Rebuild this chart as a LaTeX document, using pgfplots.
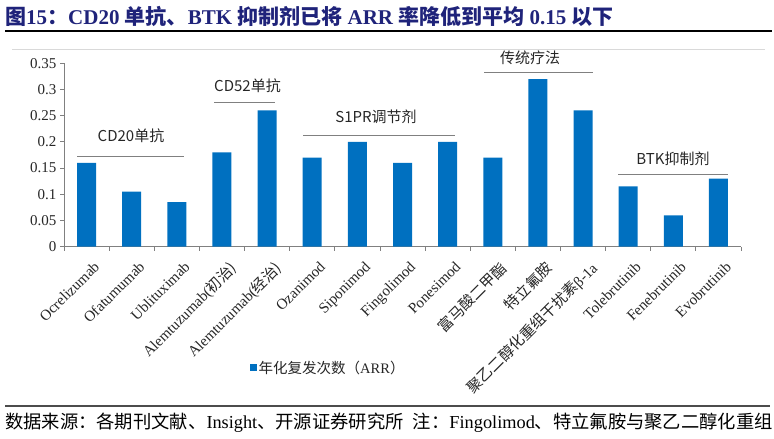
\documentclass[border=0pt]{standalone}
\usepackage{fontspec}
\setmainfont{Liberation Serif}
\newfontfamily\cjk{Noto Sans CJK SC}
\usepackage{pgfplots}
\pgfplotsset{compat=1.18}
\definecolor{barblue}{HTML}{0070C0}
\definecolor{titleblue}{HTML}{1F237A}
\definecolor{axgray}{HTML}{808080}
\pgfplotsset{
  commonaxis/.style={
    at={(64pt,192.3pt)}, anchor=south west,
    width=677pt, height=183.4pt, scale only axis,
    xmin=-0.5, xmax=14.5, ymin=0, ymax=0.35,
    axis line style={axgray, line width=0.8pt},
    every tick/.style={axgray, line width=0.8pt},
    clip=false,
  }
}
\begin{document}
\begin{tikzpicture}[x=1pt,y=1pt]
\useasboundingbox (0,0) rectangle (774,439);
% title
\node[anchor=west,inner sep=0pt,text=titleblue,font=\fontsize{21}{21}\selectfont\bfseries] at (5,422.5)
  {{\cjk 图}15{\cjk ：}CD20 {\cjk 单抗、}BTK {\cjk 抑制剂已将} ARR {\cjk 率降低到平均} 0.15 {\cjk 以下}};
\draw[black,line width=1.2pt] (5,408) -- (772,408);
\draw[black!15,line width=0.8pt] (12,390) -- (765,390);
% bars and x axis
\begin{axis}[
  commonaxis,
  axis x line*=bottom, axis y line=none,
  ytick=\empty,
  tick align=inside,
  major tick length=0pt,
  xtick={0,...,14},
  xticklabels={Ocrelizumab, Ofatumumab, Ublituximab, {Alemtuzumab(\cjk 初治)}, {Alemtuzumab(\cjk 经治)}, Ozanimod, Siponimod, Fingolimod, Ponesimod, {\cjk 富马酸二甲酯}, {\cjk 特立氟胺}, {{\cjk 聚乙二醇化重组干扰素}β-1a}, Tolebrutinib, Fenebrutinib, Evobrutinib},
  xticklabel style={rotate=45, anchor=north east, font=\fontsize{15}{15}\selectfont, text=black!85, inner sep=1pt, xshift=-4pt, yshift=-13pt},
  extra x ticks={-0.5,0.5,1.5,2.5,3.5,4.5,5.5,6.5,7.5,8.5,9.5,10.5,11.5,12.5,13.5,14.5},
  extra x tick labels={,,,,,,,,,,,,,,,},
  extra x tick style={major tick length=4pt},
  ybar, bar width=19pt,
  legend style={at={(0.274,-0.661)}, anchor=west, draw=none, fill=none, inner sep=0pt, font=\fontsize{14.5}{14.5}\selectfont, text=black!85},
  legend image code/.code={\fill[barblue] (0pt,-3.5pt) rectangle (7pt,3.5pt);},
]
\addplot[fill=barblue, draw=none] coordinates {
 (0,0.16) (1,0.105) (2,0.085) (3,0.18) (4,0.26)
 (5,0.17) (6,0.20) (7,0.16) (8,0.20) (9,0.17)
 (10,0.32) (11,0.26) (12,0.115) (13,0.06) (14,0.13)
};
\addlegendentry{{\cjk 年化复发次数（}ARR{\cjk ）}}
\end{axis}
% y axis
\begin{axis}[
  commonaxis,
  axis x line=none, axis y line*=left,
  xtick=\empty,
  tick align=outside,
  major tick length=4pt,
  ytick={0,0.05,0.1,0.15,0.2,0.25,0.3,0.35},
  yticklabels={0,0.05,0.1,0.15,0.2,0.25,0.3,0.35},
  yticklabel style={font=\fontsize{15}{15}\selectfont, text=black!85},
]
\end{axis}
% group annotations
\begin{scope}[axgray, line width=0.8pt]
\draw (77,282.3) -- (184,282.3);
\draw (214,337) -- (275,337);
\draw (303,304) -- (455,304);
\draw (484,367) -- (593,367);
\draw (618,265) -- (728,265);
\end{scope}
\begin{scope}[every node/.style={inner sep=0pt, text=black!85, font=\cjk\fontsize{15}{15}\selectfont}]
\node at (131,303) {CD20单抗};
\node at (247.5,353) {CD52单抗};
\node at (376,322.5) {S1PR调节剂};
\node at (530,381) {传统疗法};
\node at (673,280) {BTK抑制剂};
\end{scope}
% footer
\draw[black!70,line width=1.2pt] (5,33) -- (770,33);
\node[anchor=west,inner sep=0pt,text=black,font=\fontsize{18.3}{18.3}\selectfont] at (5,16)
  {{\cjk 数据来源：各期刊文献、}Insight{\cjk 、开源证券研究所}\hspace{0.5em}{\cjk 注：}Fingolimod{\cjk 、特立氟胺与聚乙二醇化重组}};
\end{tikzpicture}
\end{document}
